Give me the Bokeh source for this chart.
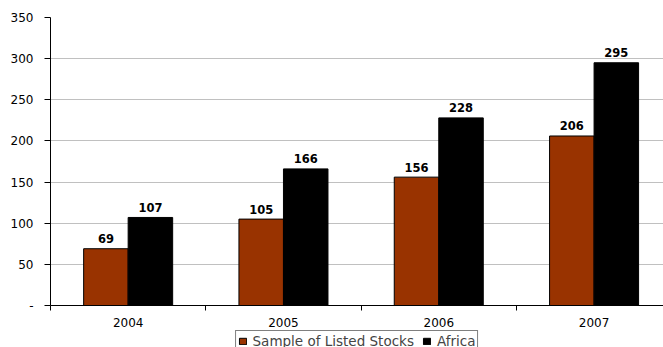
from bokeh.plotting import figure
from bokeh.models import Range1d, FixedTicker, Legend, LegendItem, ColumnDataSource
from bokeh.layouts import column
from bokeh.embed import file_html
from bokeh.resources import INLINE
from bokeh.core.properties import value

years = ["2004", "2005", "2006", "2007"]
listed = [69, 105, 156, 206]
africa = [107, 166, 228, 295]
series_names = ["Sample of Listed Stocks", "Africa"]
y_ticks = [0, 50, 100, 150, 200, 250, 300, 350]

FONT = "DejaVu Sans"
bw = 0.2866
centers = [i + 0.5 for i in range(len(years))]
colors = ["#993300", "black"]

p = figure(width=663, height=329, output_backend="svg", toolbar_location=None,
           x_range=Range1d(0, 3.947), y_range=Range1d(0, 350),
           min_border_left=50, min_border_right=0, min_border_top=17, min_border_bottom=0)
p.outline_line_color = None

src1 = ColumnDataSource(dict(x=[c - bw / 2 for c in centers], top=listed, lab=[str(v) for v in listed]))
src2 = ColumnDataSource(dict(x=[c + bw / 2 for c in centers], top=africa, lab=[str(v) for v in africa]))

for s, c in zip((src1, src2), colors):
    p.vbar(x="x", top="top", width=bw, source=s, fill_color=c, line_color="black", line_width=1)
    p.text(x="x", y="top", text="lab", source=s, text_align="center", text_baseline="alphabetic",
           y_offset=-10, text_font=value(FONT), text_font_style="bold", text_font_size="11.5px",
           text_color="black")

# x axis
p.xaxis.ticker = FixedTicker(ticks=centers, minor_ticks=[0, 1, 2, 3])
p.xaxis.major_label_overrides = {c: y for c, y in zip(centers, years)}
p.xaxis.major_tick_line_color = None
p.xaxis.major_tick_out = 0
p.xaxis.major_tick_in = 0
p.xaxis.minor_tick_out = 5
p.xaxis.minor_tick_in = 0
p.xaxis.minor_tick_line_color = "black"
p.xaxis.axis_line_color = "black"
p.xaxis.major_label_standoff = 7
p.xaxis.major_label_text_font = FONT
p.xaxis.major_label_text_font_size = "12px"
p.xaxis.major_label_text_color = "black"

# y axis
p.yaxis.ticker = FixedTicker(ticks=y_ticks, minor_ticks=[])
p.yaxis.major_label_overrides = {0: "-"}
p.yaxis.major_tick_out = 6
p.yaxis.major_tick_in = 0
p.yaxis.minor_tick_line_color = None
p.yaxis.axis_line_color = "black"
p.yaxis.major_tick_line_color = "black"
p.yaxis.major_label_standoff = 11
p.yaxis.major_label_text_font = FONT
p.yaxis.major_label_text_font_size = "12px"
p.yaxis.major_label_text_color = "black"

p.xgrid.grid_line_color = None
p.ygrid.grid_line_color = "#c0c0c0"
p.ygrid.ticker = FixedTicker(ticks=y_ticks[1:])

# legend strip (bars drawn off-range so only the legend shows)
lg = figure(width=663, height=18, output_backend="svg", toolbar_location=None,
            x_range=Range1d(0, 1), y_range=Range1d(1000, 1001),
            min_border_left=0, min_border_right=0, min_border_top=0, min_border_bottom=0)
lg.outline_line_color = None
lg.axis.visible = False
lg.grid.grid_line_color = None
rs = [lg.vbar(x="x", top="top", width=bw, source=s, fill_color=c, line_color="black", line_width=1)
      for s, c in zip((src1, src2), colors)]

legend = Legend(items=[LegendItem(label=n, renderers=[r]) for n, r in zip(series_names, rs)],
                orientation="horizontal", location="top",
                border_line_color="black", border_line_width=1,
                label_text_font=FONT, label_text_font_size="13.5px",
                glyph_width=9, glyph_height=8, label_standoff=6, spacing=8,
                padding=2, margin=1, label_height=12)
lg.add_layout(legend, "center")

open("out.html", "w").write(file_html(column(p, lg, spacing=0), INLINE))
